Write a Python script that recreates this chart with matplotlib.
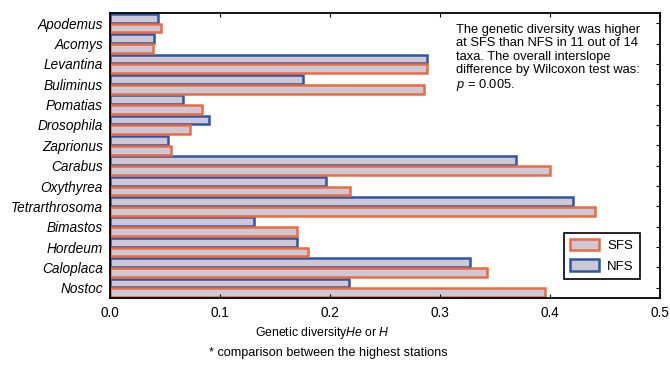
import matplotlib
matplotlib.use("Agg")
import matplotlib.pyplot as plt
import numpy as np
from matplotlib.patches import Patch

taxa = ["Apodemus", "Acomys", "Levantina", "Buliminus", "Pomatias", "Drosophila",
        "Zaprionus", "Carabus", "Oxythyrea", "Tetrarthrosoma", "Bimastos", "Hordeum",
        "Caloplaca", "Nostoc"]
nfs = [0.044, 0.040, 0.288, 0.175, 0.066, 0.090, 0.053, 0.369, 0.196, 0.421, 0.131, 0.170, 0.327, 0.217]
sfs = [0.046, 0.039, 0.288, 0.285, 0.084, 0.073, 0.055, 0.400, 0.218, 0.441, 0.170, 0.180, 0.343, 0.395]
xticks = [0.0, 0.1, 0.2, 0.3, 0.4, 0.5]

plt.rcParams['font.family'] = ['Liberation Sans', 'DejaVu Sans']
plt.rcParams['mathtext.fontset'] = 'custom'
plt.rcParams['mathtext.rm'] = 'Liberation Sans'
plt.rcParams['mathtext.it'] = 'Liberation Sans:italic'

fig = plt.figure(figsize=(6.7, 3.65), dpi=100)
ax = fig.add_axes([110/670, 1-298/365, 550/670, 285/365])

fill = "#cdc8d6"
orange = "#ee6a3c"
blue = "#2f55a8"
n = len(taxa)
y = np.arange(n)
h = 0.43
ax.barh(y - 0.24, nfs, height=h, color=fill, edgecolor=blue, linewidth=1.8, label="NFS")
ax.barh(y + 0.24, sfs, height=h, color=fill, edgecolor=orange, linewidth=1.8, label="SFS")

ax.set_ylim(n - 0.5, -0.5)
ax.set_xlim(0, 0.5)
ax.set_yticks(y)
ax.set_yticklabels(taxa, style="italic", fontsize=9.8)
ax.tick_params(axis="y", left=False, right=True, direction="in", length=3, pad=5)
ax.set_xticks(xticks)
ax.set_xticklabels([f"{t:.1f}" for t in xticks], fontsize=9.8)
ax.tick_params(axis="x", top=True, bottom=True, direction="in", length=3, pad=6)
for s in ax.spines.values():
    s.set_linewidth(1.3)

ax.text(0.63, 0.96,
        "The genetic diversity was higher\nat SFS than NFS in 11 out of 14\ntaxa. The overall interslope\ndifference by Wilcoxon test was:\n$p$ = 0.005.",
        transform=ax.transAxes, fontsize=9.3, va="top", ha="left", linespacing=1.12)

handles = [Patch(facecolor=fill, edgecolor=orange, linewidth=1.8, label="SFS"),
           Patch(facecolor=fill, edgecolor=blue, linewidth=1.8, label="NFS")]
leg = ax.legend(handles=handles, loc="lower right", bbox_to_anchor=(0.975, 0.045),
                fontsize=9.5, fancybox=False, framealpha=1, edgecolor="black",
                handlelength=2.2, handleheight=1.0, borderpad=0.45, labelspacing=0.55,
                handletextpad=0.6)
leg.get_frame().set_linewidth(1.2)

fig.text(322/670, 1-333/365, "Genetic diversity$\\it{He}$ or $\\it{H}$", ha="center", va="center", fontsize=8.8)
fig.text(328/670, 1-353/365, "* comparison between the highest stations", ha="center", va="center", fontsize=9.1)

fig.savefig("out.png", dpi=100)
